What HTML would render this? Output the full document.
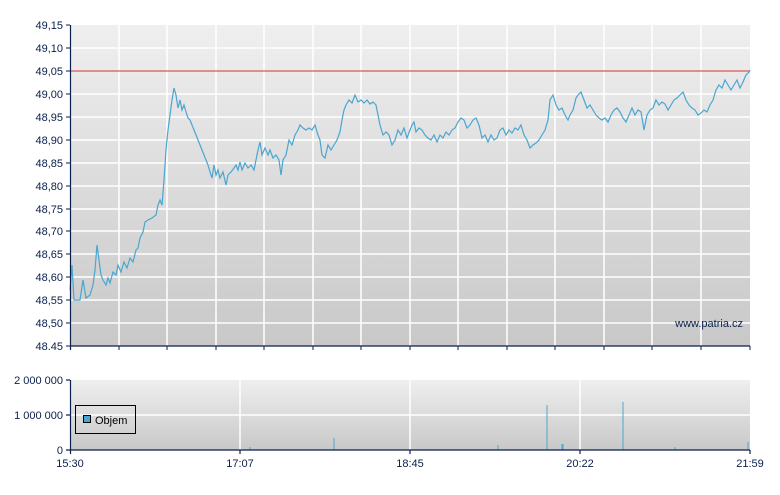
<!DOCTYPE html>
<html><head><meta charset="utf-8"><style>
body{margin:0;background:#fff;}
text{font-family:"Liberation Sans",sans-serif;font-size:11px;fill:#0a1f4a;}
</style></head><body>
<svg width="780" height="490" xmlns="http://www.w3.org/2000/svg">
<defs>
<linearGradient id="g1" x1="0" y1="0" x2="0" y2="1"><stop offset="0" stop-color="#efefef"/><stop offset="1" stop-color="#c8c8c8"/></linearGradient>
<linearGradient id="g2" x1="0" y1="0" x2="0" y2="1"><stop offset="0" stop-color="#efefef"/><stop offset="1" stop-color="#c8c8c8"/></linearGradient>
</defs>
<rect x="70" y="25" width="680" height="321" fill="url(#g1)"/>
<g stroke="#fff" stroke-width="1.5">
<line x1="70" x2="750" y1="48" y2="48"/><line x1="70" x2="750" y1="94" y2="94"/><line x1="70" x2="750" y1="117" y2="117"/><line x1="70" x2="750" y1="140" y2="140"/><line x1="70" x2="750" y1="163" y2="163"/><line x1="70" x2="750" y1="186" y2="186"/><line x1="70" x2="750" y1="209" y2="209"/><line x1="70" x2="750" y1="231" y2="231"/><line x1="70" x2="750" y1="254" y2="254"/><line x1="70" x2="750" y1="277" y2="277"/><line x1="70" x2="750" y1="300" y2="300"/><line x1="70" x2="750" y1="323" y2="323"/>
<line y1="25" y2="346" x1="119" x2="119"/><line y1="25" y2="346" x1="167" x2="167"/><line y1="25" y2="346" x1="216" x2="216"/><line y1="25" y2="346" x1="264" x2="264"/><line y1="25" y2="346" x1="313" x2="313"/><line y1="25" y2="346" x1="361" x2="361"/><line y1="25" y2="346" x1="410" x2="410"/><line y1="25" y2="346" x1="458" x2="458"/><line y1="25" y2="346" x1="507" x2="507"/><line y1="25" y2="346" x1="555" x2="555"/><line y1="25" y2="346" x1="604" x2="604"/><line y1="25" y2="346" x1="652" x2="652"/><line y1="25" y2="346" x1="701" x2="701"/>
</g>
<line x1="70" x2="750" y1="71" y2="71" stroke="#d9534f" stroke-width="1.5" opacity="0.8"/>
<polyline fill="none" stroke="#4aa6d0" stroke-width="1.2" points="70,290 72,265 74,300 76,300 80,300 83,280 86,298 90,295 93,285 95,270 97,245 99,260 101,275 103,280 106,285 108,278 110,283 113,272 116,275 118,265 121,272 124,262 127,268 130,258 133,262 136,250 138,248 140,238 143,232 145,222 148,220 152,218 156,215 158,205 160,200 162,205 164,180 166,150 168,130 170,115 172,100 174,88 176,95 178,108 180,100 182,110 184,105 186,112 188,118 190,120 192,125 196,135 200,145 204,155 208,165 210,172 212,178 214,165 216,175 218,170 220,178 223,172 226,185 228,175 231,172 234,168 236,165 238,170 240,162 242,170 245,163 248,168 251,165 254,170 256,160 258,150 260,142 262,155 265,148 268,155 270,150 273,158 276,155 279,160 281,175 283,160 286,155 289,140 292,145 295,135 298,130 300,125 303,128 306,130 309,128 312,130 315,125 318,135 320,140 322,155 325,158 328,145 331,150 334,145 337,140 340,132 342,120 344,110 346,105 349,100 352,103 355,95 358,102 361,100 364,103 367,100 370,104 373,102 376,105 378,115 380,125 383,135 386,132 389,135 392,145 395,140 398,130 401,135 404,128 407,138 410,130 412,125 414,122 416,132 419,128 422,130 425,135 428,138 431,140 434,135 437,142 440,135 443,138 446,132 449,135 452,130 455,128 458,122 461,118 464,120 467,128 470,125 473,120 476,118 479,125 482,138 485,135 488,142 491,135 494,140 497,138 500,130 503,128 506,135 509,130 512,133 515,128 518,130 521,125 524,135 527,140 530,148 533,145 536,143 539,140 542,135 545,130 548,120 550,100 553,95 556,105 559,110 562,108 565,115 568,120 570,115 573,110 576,98 578,95 581,92 584,100 587,108 590,105 593,110 596,115 599,118 602,120 605,118 608,122 611,115 614,110 617,108 620,112 623,118 626,122 629,115 632,108 635,115 638,110 641,112 644,130 647,115 650,110 653,108 656,100 659,105 662,102 665,104 668,110 671,105 674,100 677,98 680,95 683,92 686,100 689,105 692,108 695,110 698,115 701,113 704,110 707,112 710,105 713,100 716,90 719,85 722,88 725,80 728,85 731,90 734,85 737,80 740,88 743,82 746,75 749,72 750,70"/>
<g stroke="#0a1f4a" stroke-width="1.2">
<line x1="70.5" x2="70.5" y1="25" y2="350"/><line x1="70" x2="750" y1="346" y2="346"/>
</g>
<g stroke="#0a1f4a" stroke-width="1">
<line x1="66" x2="70" y1="25" y2="25"/><line x1="66" x2="70" y1="48" y2="48"/><line x1="66" x2="70" y1="71" y2="71"/><line x1="66" x2="70" y1="94" y2="94"/><line x1="66" x2="70" y1="117" y2="117"/><line x1="66" x2="70" y1="140" y2="140"/><line x1="66" x2="70" y1="163" y2="163"/><line x1="66" x2="70" y1="186" y2="186"/><line x1="66" x2="70" y1="209" y2="209"/><line x1="66" x2="70" y1="231" y2="231"/><line x1="66" x2="70" y1="254" y2="254"/><line x1="66" x2="70" y1="277" y2="277"/><line x1="66" x2="70" y1="300" y2="300"/><line x1="66" x2="70" y1="323" y2="323"/><line x1="66" x2="70" y1="346" y2="346"/>
<line y1="346" y2="350" x1="119" x2="119"/><line y1="346" y2="350" x1="167" x2="167"/><line y1="346" y2="350" x1="216" x2="216"/><line y1="346" y2="350" x1="264" x2="264"/><line y1="346" y2="350" x1="313" x2="313"/><line y1="346" y2="350" x1="361" x2="361"/><line y1="346" y2="350" x1="410" x2="410"/><line y1="346" y2="350" x1="458" x2="458"/><line y1="346" y2="350" x1="507" x2="507"/><line y1="346" y2="350" x1="555" x2="555"/><line y1="346" y2="350" x1="604" x2="604"/><line y1="346" y2="350" x1="652" x2="652"/><line y1="346" y2="350" x1="701" x2="701"/><line y1="346" y2="350" x1="750" x2="750"/>
</g>
<g text-anchor="end">
<text x="63" y="29">49,15</text><text x="63" y="52">49,10</text><text x="63" y="75">49,05</text><text x="63" y="98">49,00</text><text x="63" y="121">48,95</text><text x="63" y="144">48,90</text><text x="63" y="167">48,85</text><text x="63" y="190">48,80</text><text x="63" y="213">48,75</text><text x="63" y="235">48,70</text><text x="63" y="258">48,65</text><text x="63" y="281">48,60</text><text x="63" y="304">48,55</text><text x="63" y="327">48,50</text><text x="63" y="350">48.45</text>
</g>
<text x="743" y="327" text-anchor="end">www.patria.cz</text>

<rect x="70" y="380" width="680" height="70" fill="url(#g2)"/>
<g stroke="#fff" stroke-width="1.5">
<line x1="70" x2="750" y1="415" y2="415"/>
<line x1="240" x2="240" y1="380" y2="450"/><line x1="410" x2="410" y1="380" y2="450"/><line x1="580" x2="580" y1="380" y2="450"/>
</g>
<g stroke="#4aa6d0" stroke-width="1">
<line x1="547" x2="547" y1="405" y2="450"/><line x1="623" x2="623" y1="402" y2="450"/><line x1="334" x2="334" y1="438" y2="450"/>
<line x1="562" x2="562" y1="444" y2="450"/><line x1="563" x2="563" y1="444" y2="450"/><line x1="748" x2="748" y1="442" y2="450"/>
<line x1="498" x2="498" y1="445" y2="450"/><line x1="675" x2="675" y1="447" y2="450"/><line x1="250" x2="250" y1="447" y2="450"/>
</g>
<rect x="75.5" y="405.5" width="60" height="28" fill="none" stroke="#000"/>
<rect x="83.5" y="415.5" width="7" height="7" fill="#4aa6d0" stroke="#000"/>
<text x="95" y="424" style="fill:#000">Objem</text>
<g stroke="#0a1f4a" stroke-width="1.2">
<line x1="70.5" x2="70.5" y1="380" y2="454"/><line x1="66" x2="750" y1="450" y2="450"/>
<line x1="66" x2="70" y1="380" y2="380"/><line x1="66" x2="70" y1="415" y2="415"/>
<line x1="240" x2="240" y1="450" y2="454"/><line x1="410" x2="410" y1="450" y2="454"/><line x1="580" x2="580" y1="450" y2="454"/><line x1="750" x2="750" y1="450" y2="454"/>
</g>
<g text-anchor="end">
<text x="63" y="384">2 000 000</text><text x="63" y="419">1 000 000</text><text x="63" y="454">0</text>
</g>
<g text-anchor="middle">
<text x="70" y="467">15:30</text><text x="240" y="467">17:07</text><text x="410" y="467">18:45</text><text x="580" y="467">20:22</text><text x="750" y="467">21:59</text>
</g>
</svg>
</body></html>
